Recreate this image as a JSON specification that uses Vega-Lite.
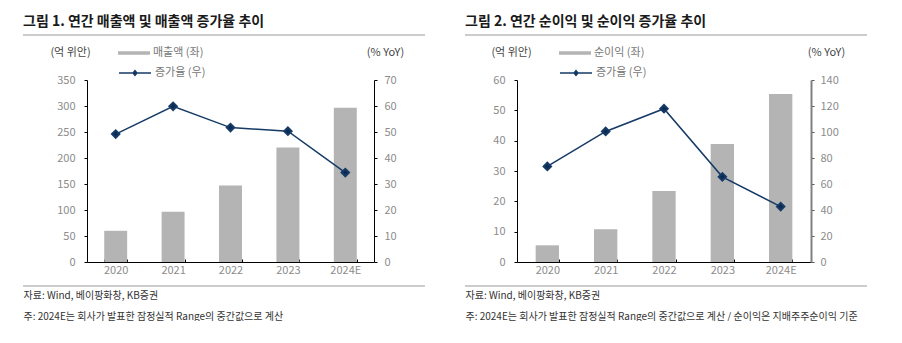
{
  "$schema": "https://vega.github.io/schema/vega-lite/v6.json",
  "padding": {"left": 22, "top": 14, "right": 0, "bottom": 0},
  "spacing": 38,
  "config": {"view": {"stroke": null}, "font": "Noto Sans CJK KR", "axis": {"grid": false}},
  "datasets": {
    "sales": [
      {"year": "2020", "sales": 60, "growth": 49.2},
      {"year": "2021", "sales": 96.5, "growth": 59.9},
      {"year": "2022", "sales": 147, "growth": 51.7},
      {"year": "2023", "sales": 220, "growth": 50.3},
      {"year": "2024E", "sales": 296.5, "growth": 34.4}
    ],
    "profit": [
      {"year": "2020", "profit": 5.5, "growth": 73.5},
      {"year": "2021", "profit": 10.8, "growth": 100.4},
      {"year": "2022", "profit": 23.4, "growth": 117.9},
      {"year": "2023", "profit": 38.9, "growth": 65.5},
      {"year": "2024E", "profit": 55.4, "growth": 42.6}
    ],
    "edges": [{"edge": 0}, {"edge": 1}]
  },
  "resolve": {
    "scale": {"fill": "independent", "stroke": "independent", "x": "independent", "y": "independent"},
    "legend": {"fill": "independent", "stroke": "independent"}
  },
  "hconcat": [
    {
      "width": 402,
      "height": 251,
      "title": {"text": "그림 1. 연간 매출액 및 매출액 증가율 추이", "anchor": "start", "frame": "group", "fontSize": 14, "fontWeight": "bold", "color": "#1a1a1a", "offset": 6},
      "data": {"name": "sales"},
      "layer": [
        {
          "mark": {"type": "bar"},
          "encoding": {
            "x": {"field": "year", "type": "nominal", "sort": null,
              "scale": {"range": [64, 351], "paddingInner": 0.6, "paddingOuter": 0.3},
              "axis": {"orient": "bottom", "offset": -24, "labelAngle": 0, "labelColor": "#8c8c8c", "labelFontSize": 11, "labelPadding": 5,
                "domainColor": "#000", "tickColor": "#000", "tickBand": "extent", "tickSize": -3,
                "title": ["자료: Wind, 베이팡화창, KB증권", "주: 2024E는 회사가 발표한 잠정실적 Range의 중간값으로 계산"],
                "titleX": 0, "titleY": 28, "titleAlign": "left", "titleBaseline": "top", "titleFontSize": 10, "titleFontWeight": "normal", "titleColor": "#333", "titleLineHeight": 21}},
            "y": {"field": "sales", "type": "quantitative",
              "scale": {"domain": [0, 350], "range": [227, 45], "nice": false},
              "axis": {"orient": "left", "offset": -64, "values": [0, 50, 100, 150, 200, 250, 300, 350], "domainColor": "#000", "tickColor": "#000", "tickSize": 3, "labelPadding": 9, "labelColor": "#8c8c8c", "labelFontSize": 11,
                "title": "(억 위안)", "titleAngle": 0, "titleX": -17, "titleY": 17, "titleAlign": "center", "titleBaseline": "middle", "titleFontSize": 11, "titleFontWeight": "normal", "titleColor": "#444"}},
            "fill": {"datum": "매출액 (좌)", "scale": {"range": ["#b4b4b4"]},
              "legend": {"orient": "none", "legendX": 95, "legendY": 2, "title": null, "padding": 0, "symbolType": "M-1,-0.11H1V0.11H-1Z", "symbolSize": 1024, "symbolStrokeWidth": 0, "labelFontSize": 11, "labelColor": "#777", "labelOffset": 3}}
          }
        },
        {
          "mark": {"type": "line", "strokeWidth": 1.5, "point": {"shape": "diamond", "filled": true, "size": 55, "color": "#0b2a52", "opacity": 1}},
          "encoding": {
            "x": {"field": "year", "type": "nominal", "sort": null},
            "y": {"field": "growth", "type": "quantitative",
              "scale": {"domain": [0, 70], "range": [227, 45], "nice": false},
              "axis": {"orient": "right", "offset": -51, "values": [0, 10, 20, 30, 40, 50, 60, 70], "labelOverlap": false, "domainColor": "#000", "tickColor": "#000", "tickSize": 3, "labelPadding": 7, "labelColor": "#8c8c8c", "labelFontSize": 11,
                "title": "(% YoY)", "titleAngle": 0, "titleX": 11, "titleY": 17, "titleAlign": "center", "titleBaseline": "middle", "titleFontSize": 11, "titleFontWeight": "normal", "titleColor": "#444"}},
            "stroke": {"datum": "증가율 (우)", "scale": {"range": ["#163a66"]},
              "legend": {"orient": "none", "legendX": 95, "legendY": 21, "title": null, "padding": 0, "symbolType": "M-1,0H1M0,-0.15L0.12,0L0,0.15L-0.12,0Z", "symbolSize": 1024, "symbolStrokeWidth": 1.5, "symbolFillColor": "#0b2a52", "labelFontSize": 11, "labelColor": "#777", "labelOffset": 3}}
          }
        },
        {
          "data": {"name": "edges"},
          "mark": {"type": "rule", "color": "#999", "strokeWidth": 1},
          "encoding": {"y": {"field": "edge", "type": "quantitative", "scale": {"domain": [0, 1], "nice": false, "zero": false}, "axis": null}}
        }
      ],
      "resolve": {"scale": {"y": "independent"}}
    },
    {
      "width": 402,
      "height": 251,
      "title": {"text": "그림 2. 연간 순이익 및 순이익 증가율 추이", "anchor": "start", "frame": "group", "fontSize": 14, "fontWeight": "bold", "color": "#1a1a1a", "offset": 6},
      "data": {"name": "profit"},
      "layer": [
        {
          "mark": {"type": "bar"},
          "encoding": {
            "x": {"field": "year", "type": "nominal", "sort": null,
              "scale": {"range": [52, 346], "paddingInner": 0.6, "paddingOuter": 0.32},
              "axis": {"orient": "bottom", "offset": -24, "labelAngle": 0, "labelColor": "#8c8c8c", "labelFontSize": 11, "labelPadding": 5,
                "domainColor": "#000", "tickColor": "#000", "tickBand": "extent", "tickSize": -3,
                "title": ["자료: Wind, 베이팡화창, KB증권", "주: 2024E는 회사가 발표한 잠정실적 Range의 중간값으로 계산 / 순이익은 지배주주순이익 기준"],
                "titleX": 0, "titleY": 28, "titleAlign": "left", "titleBaseline": "top", "titleFontSize": 10, "titleFontWeight": "normal", "titleColor": "#333", "titleLineHeight": 21}},
            "y": {"field": "profit", "type": "quantitative",
              "scale": {"domain": [0, 60], "range": [227, 45], "nice": false},
              "axis": {"orient": "left", "offset": -52, "values": [0, 10, 20, 30, 40, 50, 60], "domainColor": "#000", "tickColor": "#000", "tickSize": 3, "labelPadding": 9, "labelColor": "#8c8c8c", "labelFontSize": 11,
                "title": "(억 위안)", "titleAngle": 0, "titleX": -6, "titleY": 17, "titleAlign": "center", "titleBaseline": "middle", "titleFontSize": 11, "titleFontWeight": "normal", "titleColor": "#444"}},
            "fill": {"datum": "순이익 (좌)", "scale": {"range": ["#b4b4b4"]},
              "legend": {"orient": "none", "legendX": 94, "legendY": 2, "title": null, "padding": 0, "symbolType": "M-1,-0.11H1V0.11H-1Z", "symbolSize": 1024, "symbolStrokeWidth": 0, "labelFontSize": 11, "labelColor": "#777", "labelOffset": 3}}
          }
        },
        {
          "mark": {"type": "line", "strokeWidth": 1.5, "point": {"shape": "diamond", "filled": true, "size": 55, "color": "#0b2a52", "opacity": 1}},
          "encoding": {
            "x": {"field": "year", "type": "nominal", "sort": null},
            "y": {"field": "growth", "type": "quantitative",
              "scale": {"domain": [0, 140], "range": [227, 45], "nice": false},
              "axis": {"orient": "right", "offset": -56, "values": [0, 20, 40, 60, 80, 100, 120, 140], "labelOverlap": false, "domainColor": "#808080", "domainWidth": 2, "tickColor": "#555", "tickSize": 3, "labelPadding": 6, "labelColor": "#8c8c8c", "labelFontSize": 11,
                "title": "(% YoY)", "titleAngle": 0, "titleX": 15, "titleY": 17, "titleAlign": "center", "titleBaseline": "middle", "titleFontSize": 11, "titleFontWeight": "normal", "titleColor": "#444"}},
            "stroke": {"datum": "증가율 (우)", "scale": {"range": ["#163a66"]},
              "legend": {"orient": "none", "legendX": 94, "legendY": 21, "title": null, "padding": 0, "symbolType": "M-1,0H1M0,-0.15L0.12,0L0,0.15L-0.12,0Z", "symbolSize": 1024, "symbolStrokeWidth": 1.5, "symbolFillColor": "#0b2a52", "labelFontSize": 11, "labelColor": "#777", "labelOffset": 3}}
          }
        },
        {
          "data": {"name": "edges"},
          "mark": {"type": "rule", "color": "#999", "strokeWidth": 1},
          "encoding": {"y": {"field": "edge", "type": "quantitative", "scale": {"domain": [0, 1], "nice": false, "zero": false}, "axis": null}}
        }
      ],
      "resolve": {"scale": {"y": "independent"}}
    }
  ]
}
